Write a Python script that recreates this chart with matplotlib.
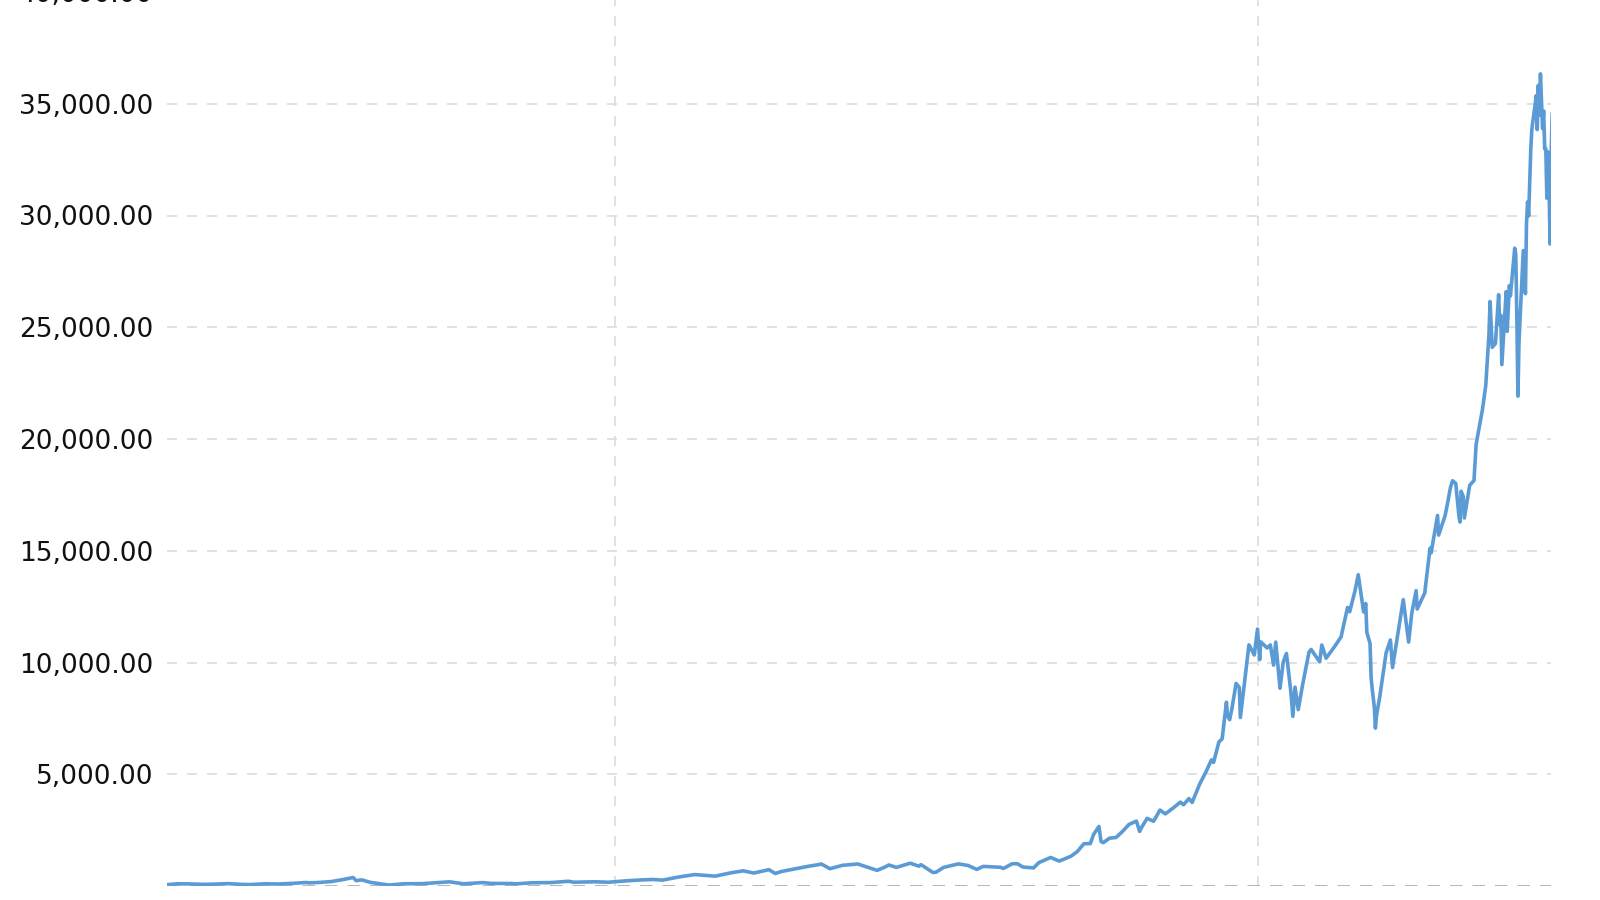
import matplotlib
matplotlib.use("Agg")
import matplotlib.pyplot as plt
import numpy as np

# Dow Jones Industrial Average - monthly closes
months = [
    "1915-01", "1915-12", "1916-11", "1917-12", "1918-10", "1919-11", "1920-12",
    "1921-08", "1922-10", "1923-10", "1924-12", "1925-12", "1926-03", "1926-12",
    "1927-12", "1928-12", "1929-08", "1929-11", "1930-04", "1930-12", "1931-12",
    "1932-06", "1933-07", "1934-12", "1935-12", "1936-12", "1937-02", "1938-03",
    "1939-09", "1940-05", "1941-12", "1942-04", "1943-07", "1944-12", "1945-12",
    "1946-05", "1946-10", "1947-12", "1948-06", "1949-06", "1950-12", "1951-12",
    "1952-12", "1953-09", "1954-12", "1955-12", "1956-03", "1957-10", "1958-12",
    "1959-12", "1960-10", "1961-12", "1962-06", "1962-12", "1963-12", "1964-12",
    "1965-12", "1966-01", "1966-09", "1967-09", "1968-11", "1969-06", "1970-05",
    "1970-12", "1971-04", "1971-11", "1972-12", "1973-08", "1973-10", "1974-09",
    "1974-12", "1975-07", "1976-09", "1977-06", "1978-02", "1978-08", "1979-12",
    "1980-03", "1980-11", "1981-04", "1981-09", "1982-07", "1982-12", "1983-11",
    "1984-07", "1984-12", "1985-06", "1985-12", "1986-06", "1986-12", "1987-03",
    "1987-08", "1987-10", "1987-12", "1988-06", "1988-12", "1989-06", "1989-12",
    "1990-07", "1990-10", "1990-12", "1991-05", "1991-11", "1992-05", "1992-10",
    "1993-06", "1993-12", "1994-03", "1994-08", "1994-11", "1995-06", "1995-12",
    "1996-05", "1996-07", "1996-12", "1997-03", "1997-07", "1997-08", "1997-10",
    "1997-12", "1998-04", "1998-07", "1998-08", "1998-12", "1999-04", "1999-09",
    "1999-12", "2000-02", "2000-03", "2000-09", "2000-12", "2001-03", "2001-05",
    "2001-09", "2001-12", "2002-03", "2002-07", "2002-09", "2002-11", "2003-02",
    "2003-06", "2003-12", "2004-02", "2004-10", "2004-12", "2005-04", "2005-12",
    "2006-06", "2006-12", "2007-02", "2007-07", "2007-10", "2007-12", "2008-03",
    "2008-05", "2008-06", "2008-09", "2008-10", "2008-11", "2009-01", "2009-02",
    "2009-03", "2009-06", "2009-12", "2010-04", "2010-06", "2010-12", "2011-04",
    "2011-09", "2011-12", "2012-04", "2012-05", "2012-12", "2013-05", "2013-06",
    "2013-12", "2014-01", "2014-07", "2014-09", "2014-12", "2015-02", "2015-05",
    "2015-08", "2015-09", "2015-10", "2015-12", "2016-01", "2016-06", "2016-10",
    "2016-12", "2017-06", "2017-09", "2017-12", "2018-01", "2018-03", "2018-06",
    "2018-09", "2018-10", "2018-11", "2018-12", "2019-04", "2019-05", "2019-07",
    "2019-08", "2019-12", "2020-01", "2020-02", "2020-03", "2020-04", "2020-08",
    "2020-10", "2020-11", "2020-12", "2021-01", "2021-03", "2021-04", "2021-07",
    "2021-08", "2021-09", "2021-10", "2021-11", "2021-12", "2022-01", "2022-02",
    "2022-03", "2022-04", "2022-05", "2022-06", "2022-07", "2022-08", "2022-09",
    "2022-10", "2022-11",
]
closes = [
    55, 99, 95, 74, 82, 107, 72,
    64, 99, 88, 120, 156, 140, 157,
    200, 300, 380, 238, 275, 165, 78,
    43, 100, 104, 144, 180, 187, 99,
    153, 116, 111, 96, 145, 152, 193,
    212, 169, 181, 189, 168, 235, 269,
    291, 264, 404, 488, 512, 441, 584,
    679, 580, 731, 561, 652, 763, 874,
    969, 985, 774, 927, 985, 873, 700,
    839, 941, 831, 1020, 887, 956, 608,
    616, 831, 990, 916, 742, 876, 839,
    785, 993, 997, 850, 809, 1047, 1276,
    1115, 1212, 1335, 1547, 1893, 1896, 2305,
    2663, 1994, 1939, 2142, 2169, 2440, 2753,
    2905, 2442, 2634, 3028, 2895, 3397, 3227,
    3516, 3754, 3636, 3913, 3739, 4556, 5117,
    5643, 5528, 6448, 6583, 8223, 7622, 7442,
    7908, 9063, 8883, 7539, 9181, 10789, 10337,
    11497, 10128, 10922, 10651, 10787, 9879, 10912,
    8848, 10022, 10404, 8737, 7592, 8896, 7891,
    8985, 10454, 10584, 10027, 10783, 10192, 10718,
    11150, 12463, 12269, 13212, 13930, 13265, 12263,
    12638, 11350, 10851, 9325, 8829, 8001, 7063,
    7609, 8447, 10428, 11009, 9774, 11578, 12811,
    10913, 12218, 13214, 12393, 13104, 15116, 14910,
    16577, 15699, 16563, 17043, 17823, 18133, 18011,
    16528, 16285, 17664, 17425, 16466, 17930, 18142,
    19763, 21350, 22405, 24719, 26149, 24103, 24271,
    26458, 25116, 25538, 23327, 26593, 24815, 26864,
    26403, 28538, 28256, 25409, 21917, 24346, 28430,
    26502, 29638, 30606, 29983, 32982, 33875, 34935,
    35361, 33844, 35820, 34484, 36338, 35132, 33893,
    34678, 32977, 32990, 30775, 32845, 31510, 28726,
    32733, 34590,
]

yticks = [5000, 10000, 15000, 20000, 25000, 30000, 35000, 40000]
xgrid_years = [1950, 2000]

x = np.array([int(m[:4]) + (int(m[5:]) - 0.5) / 12 for m in months])
y = np.array(closes)

fig = plt.figure(figsize=(16, 9), dpi=100)
ax = fig.add_axes([167 / 1600, 14 / 900, (1551 - 167) / 1600, 894 / 900])

ax.plot(x, y, color="#5b9bd5", linewidth=2.6, solid_joinstyle="round",
        solid_capstyle="round", zorder=3)

ax.set_xlim(1915.16, 2022.78)
ax.set_ylim(0, 40000)

# grid: light dashed lines, darker baseline
for v in yticks:
    ax.axhline(v, color="#dcdcdc", linewidth=1.2, dashes=(6, 6), zorder=1)
for yr in xgrid_years:
    ax.axvline(yr, color="#dcdcdc", linewidth=1.2, dashes=(6, 6), zorder=1)
ax.axhline(0, color="#a0a0a0", linewidth=1.8, dashes=(5, 4), zorder=2)

ax.set_yticks(yticks)
ax.set_yticklabels([f"{v:,.2f}" for v in yticks])
ax.set_xticks([])
ax.tick_params(axis="y", length=0, pad=10, labelsize=19, labelcolor="#111111")
for s in ax.spines.values():
    s.set_visible(False)

fig.savefig("out.png", dpi=100)
